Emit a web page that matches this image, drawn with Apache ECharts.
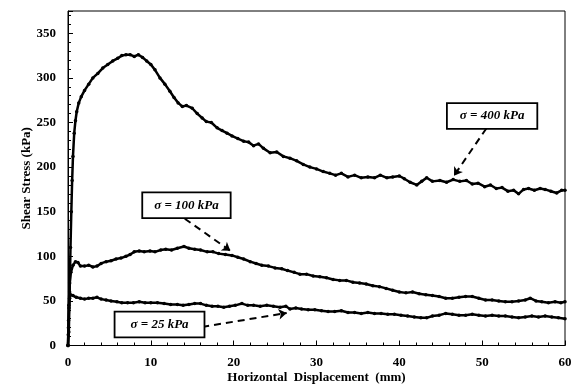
<!DOCTYPE html>
<html>
<head>
<meta charset="utf-8">
<script src="https://cdn.jsdelivr.net/npm/echarts@6/dist/echarts.min.js"></script>
<style>
  html, body { margin: 0; padding: 0; background: #fff; }
  #chart { width: 578px; height: 385px; }
</style>
</head>
<body>
<div id="chart"></div>
<script>
// [displacement mm, shear stress kPa]
const curve400 = [
  [0, 0], [0.1, 15], [0.2, 60], [0.3, 110], [0.4, 150], [0.5, 185], [0.6, 212], [0.75, 238],
  [0.9, 252], [1.05, 262], [1.3, 272], [1.6, 279], [2.0, 286], [2.5, 293], [3.0, 300], [3.6, 305],
  [4.2, 311], [4.8, 315], [5.4, 319], [6.0, 322], [6.5, 325], [7.0, 326], [7.5, 326], [8.0, 324],
  [8.5, 326], [9.0, 323], [9.5, 319], [10.0, 315], [10.5, 309], [11.1, 300], [11.7, 293], [12.3, 285],
  [12.8, 278], [13.3, 272], [13.8, 268], [14.3, 269], [15.0, 266], [15.6, 260], [16.2, 255], [16.7, 251],
  [17.3, 250], [18.0, 244], [18.6, 241], [19.2, 238], [19.8, 235], [20.5, 232], [21.2, 229], [21.8, 228],
  [22.4, 224], [23.0, 226], [23.6, 221], [24.4, 216], [25.2, 217], [26.0, 212], [26.8, 210], [27.6, 207],
  [28.4, 203], [29.2, 200], [30.0, 198], [30.8, 195], [31.6, 193], [32.3, 191], [33.0, 193], [33.8, 189],
  [34.6, 191], [35.4, 188], [36.2, 189], [37.0, 188], [37.7, 191], [38.5, 188], [39.2, 189], [40.0, 190],
  [40.6, 187], [41.3, 183], [42.1, 180], [42.7, 184], [43.3, 188], [44.0, 184], [44.9, 185], [45.7, 183],
  [46.5, 186], [47.3, 184], [48.1, 185], [48.8, 181], [49.5, 182], [50.3, 178], [51.0, 180], [51.7, 176],
  [52.4, 177], [53.1, 173], [53.8, 174], [54.4, 170], [55.0, 175], [55.6, 176], [56.3, 174], [57.0, 176],
  [57.6, 175], [58.3, 173], [59.0, 171], [59.6, 174], [60, 174]
]

const curve100 = [
  [0, 0], [0.05, 20], [0.1, 45], [0.2, 70], [0.35, 82], [0.6, 90], [0.9, 94], [1.2, 93], [1.5, 89],
  [2.0, 89], [2.5, 90], [3.0, 88], [3.5, 89], [4.0, 92], [4.6, 94], [5.2, 95], [5.8, 97], [6.4, 98],
  [7.0, 100], [7.5, 102], [8.0, 105], [8.6, 106], [9.2, 105], [9.9, 106], [10.5, 105], [11.2, 107],
  [11.8, 108], [12.5, 107], [13.2, 109], [14.0, 111], [14.6, 109], [15.3, 108], [16.0, 107], [16.8, 105],
  [17.5, 105], [18.2, 103], [19.0, 102], [19.8, 101], [20.5, 99], [21.2, 97], [22.0, 94], [22.7, 92],
  [23.4, 90], [24.2, 89], [25.0, 87], [25.8, 86], [26.5, 84], [27.3, 82], [28.0, 80], [28.8, 80],
  [29.6, 78], [30.4, 77], [31.2, 76], [32.0, 74], [32.8, 73], [33.6, 73], [34.4, 71], [35.2, 70],
  [36.0, 69], [36.8, 67], [37.6, 66], [38.4, 64], [39.2, 62], [40.0, 60], [40.8, 59], [41.6, 60],
  [42.4, 58], [43.2, 57], [44.0, 56], [44.8, 55], [45.6, 53], [46.4, 53], [47.2, 54], [48.0, 55],
  [48.8, 55], [49.6, 53], [50.4, 51], [51.2, 51], [52.0, 50], [52.8, 49], [53.6, 49], [54.4, 50],
  [55.2, 51], [55.8, 53], [56.5, 50], [57.2, 49], [58.0, 48], [58.8, 49], [59.5, 48], [60, 49]
]

const curve25 = [
  [0, 0], [0.03, 12], [0.07, 28], [0.12, 42], [0.2, 53], [0.3, 57], [0.6, 56], [1.0, 54], [1.5, 53],
  [2.0, 52], [2.5, 53], [3.0, 53], [3.5, 54], [4.0, 52], [4.6, 51], [5.2, 50], [5.9, 49], [6.5, 48],
  [7.2, 48], [7.9, 48], [8.6, 49], [9.3, 48], [10.0, 48], [10.8, 48], [11.6, 47], [12.4, 46], [13.2, 46],
  [13.9, 45], [14.6, 46], [15.3, 47], [16.0, 47], [16.7, 45], [17.4, 44], [18.1, 44], [18.8, 43],
  [19.5, 44], [20.2, 45], [21.0, 47], [21.7, 45], [22.4, 45], [23.2, 44], [24.0, 45], [24.8, 44],
  [25.6, 43], [26.3, 44], [26.8, 41], [27.5, 42], [28.2, 41], [29.0, 40], [29.8, 40], [30.6, 39],
  [31.4, 38], [32.2, 38], [33.0, 39], [33.8, 37], [34.6, 37], [35.4, 36], [36.2, 37], [37.0, 36],
  [37.8, 36], [38.6, 35], [39.4, 35], [40.2, 34], [41.0, 33], [41.8, 32], [42.6, 31], [43.3, 31],
  [44.0, 33], [44.8, 34], [45.6, 36], [46.4, 35], [47.2, 34], [48.0, 34], [48.8, 35], [49.6, 34],
  [50.4, 33], [51.2, 34], [52.0, 33], [52.8, 33], [53.6, 32], [54.4, 31], [55.2, 32], [56.0, 33],
  [56.8, 32], [57.6, 33], [58.4, 32], [59.2, 31], [60, 30]
]

// annotation labels: text, box centre (data coords)
const labelTexts = ['σ = 400 kPa', 'σ = 100 kPa', 'σ = 25 kPa']
const labelAt = [[51.2, 257.3], [14.3, 157.3], [11.05, 23.6]]
const labelPadX = [12, 11, 15]
// dashed arrows: from, to (data coords)
const arrowFrom = [[50.5, 243.3], [14.1, 142.1], [16.2, 20.8]]
const arrowTo = [[46.6, 190.4], [19.6, 106.2], [26.4, 36.5]]

const serif = '"Liberation Serif", "Times New Roman", serif'

const chart = echarts.init(document.getElementById('chart'))

const makeSeries = (name, data, idx) => ({
  name,
  type: 'line',
  data,
  smooth: false,
  symbol: 'circle',
  symbolSize: 3.5,
  showAllSymbol: true,
  itemStyle: { color: '#000' },
  lineStyle: { color: '#000', width: 2.5 },
  z: 3,
  markPoint: {
    silent: true,
    symbol: 'circle',
    symbolSize: 0,
    label: {
      show: true,
      position: 'inside',
      color: '#000',
      fontFamily: serif,
      fontStyle: 'italic',
      fontWeight: 'bold',
      fontSize: 13,
      backgroundColor: '#fff',
      borderColor: '#000',
      borderWidth: 1.8,
      padding: [6, labelPadX[idx], 5, labelPadX[idx]],
      formatter: labelTexts[idx],
    },
    data: [{ coord: labelAt[idx] }],
  },
  markLine: {
    silent: true,
    symbol: ['none', 'arrow'],
    symbolSize: 8,
    label: { show: false },
    lineStyle: { color: '#000', width: 2, type: [7, 5] },
    data: [[{ coord: arrowFrom[idx] }, { coord: arrowTo[idx] }]],
  },
})

const option = {
  animation: false,
  backgroundColor: '#fff',
  grid: {
    left: 68, right: 13, top: 11, bottom: 39.5,
    containLabel: false, outerBoundsMode: 'none',
    show: true, borderColor: '#000', borderWidth: 1,
  },
  xAxis: {
    type: 'value',
    min: 0,
    max: 60,
    interval: 10,
    name: 'Horizontal  Displacement  (mm)',
    nameLocation: 'middle',
    nameGap: 26,
    nameMoveOverlap: false,
    nameTextStyle: { fontFamily: serif, fontWeight: 'bold', fontSize: 13, color: '#000' },
    axisLine: { show: true, lineStyle: { color: '#000', width: 1 } },
    axisTick: { show: true, inside: true, length: 5, lineStyle: { color: '#000' } },
    minorTick: { show: true, splitNumber: 5, length: 3, lineStyle: { color: '#000' } },
    splitLine: { show: false },
    axisLabel: { fontFamily: serif, fontWeight: 'bold', fontSize: 13, color: '#000', margin: 11 },
  },
  yAxis: {
    type: 'value',
    min: 0,
    max: 375,
    interval: 50,
    name: 'Shear Stress (kPa)',
    nameLocation: 'middle',
    nameGap: 35,
    nameMoveOverlap: false,
    nameTextStyle: { fontFamily: serif, fontWeight: 'bold', fontSize: 13, color: '#000' },
    axisLine: { show: true, lineStyle: { color: '#000', width: 1 } },
    axisTick: { show: true, inside: true, length: 5, lineStyle: { color: '#000' } },
    minorTick: { show: true, splitNumber: 5, length: 3, lineStyle: { color: '#000' } },
    splitLine: { show: false },
    axisLabel: {
      fontFamily: serif, fontWeight: 'bold', fontSize: 13, color: '#000', margin: 12,
      showMaxLabel: false,
    },
  },
  series: [
    makeSeries('400 kPa', curve400, 0),
    makeSeries('100 kPa', curve100, 1),
    makeSeries('25 kPa', curve25, 2),
  ],
}

chart.setOption(option)
</script>
</body>
</html>
